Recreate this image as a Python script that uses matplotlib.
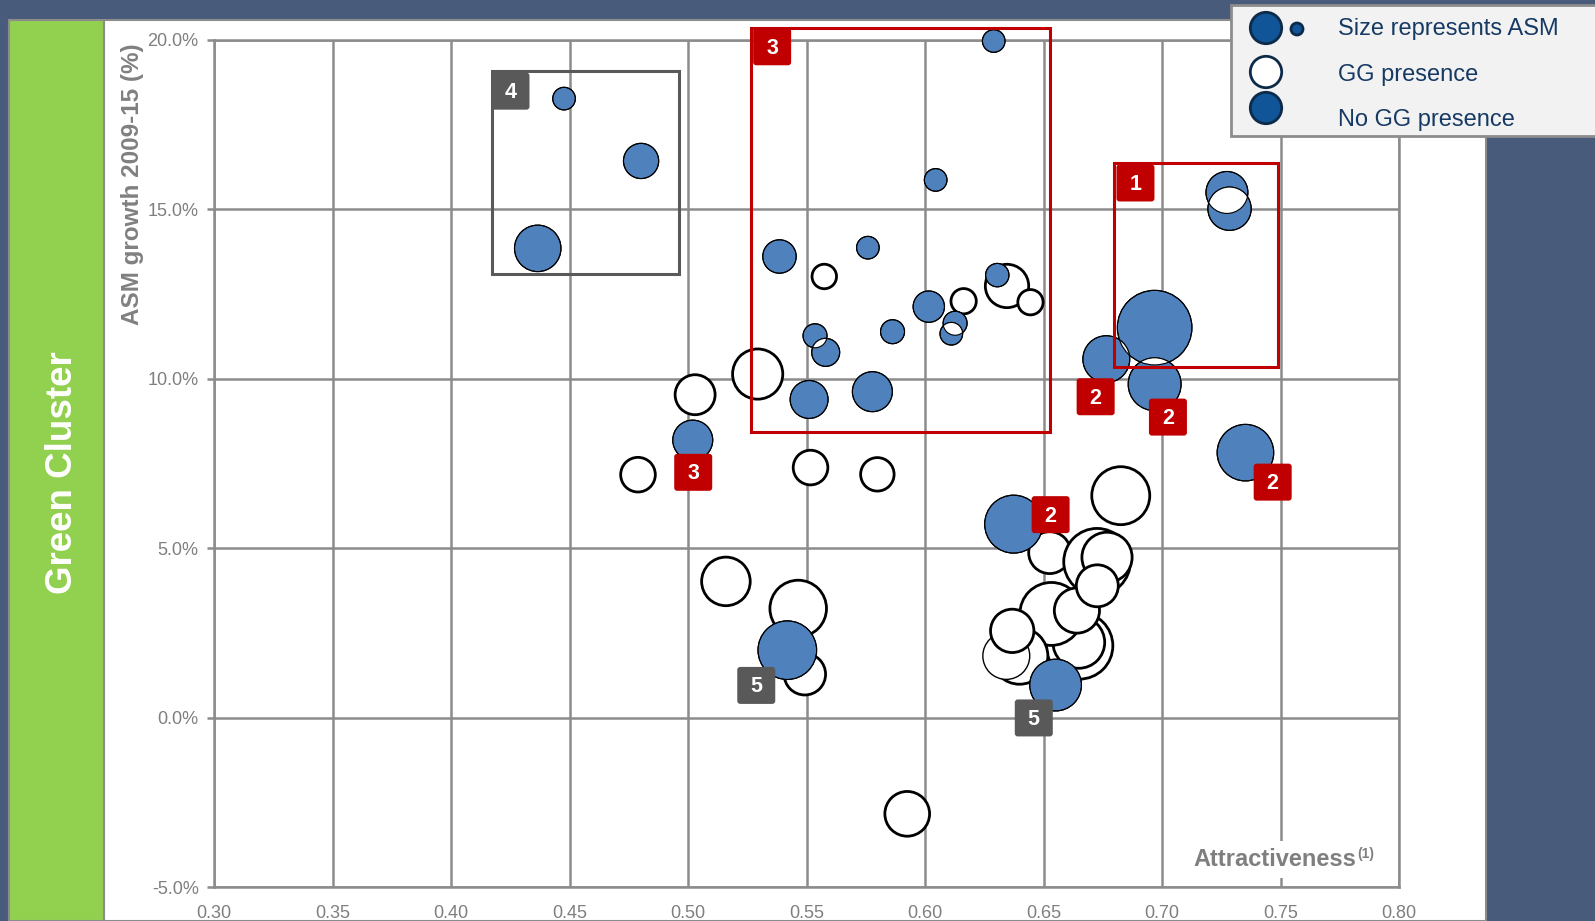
import numpy as np
import matplotlib
matplotlib.use("Agg")
import matplotlib.pyplot as plt
from matplotlib.patches import Circle, Rectangle, FancyBboxPatch
from matplotlib.transforms import ScaledTranslation

plt.rcParams['font.family'] = ['Liberation Sans', 'DejaVu Sans']

# --- data: attractiveness (x), ASM growth 2009-15 in % (y), ASM (bubble area)
# airports with GG presence (white bubbles)
gg_x = [0.5575, 0.6346, 0.6445, 0.6163, 0.5294, 0.5030, 0.4789, 0.5517, 0.5799,
        0.5160, 0.5465, 0.5493, 0.5925, 0.6826, 0.6526, 0.6652, 0.6649, 0.6533,
        0.6399, 0.6343, 0.6368, 0.6641, 0.6726, 0.6768, 0.6727]
gg_y = [13.02, 12.74, 12.26, 12.29, 10.14, 9.53, 7.17, 7.38, 7.18,
        4.02, 3.22, 1.28, -2.84, 6.55, 4.87, 2.12, 2.22, 3.06,
        1.82, 1.82, 2.56, 3.16, 4.60, 4.73, 3.89]
gg_asm = [1.5, 4.7, 1.6, 1.6, 6.3, 4.0, 3.0, 3.0, 2.8,
          5.9, 8.0, 4.3, 5.0, 8.4, 4.4, 11.1, 6.7, 9.9,
          8.0, 5.5, 4.7, 5.1, 11.1, 6.3, 4.4]
gg_thin = [19]  # drawn with a thinner outline

# airports without GG presence (blue bubbles)
no_x = [0.4477, 0.4802, 0.4366, 0.6290, 0.6045, 0.5386, 0.5759, 0.6305, 0.6016,
        0.5863, 0.6127, 0.6111, 0.5536, 0.5581, 0.5778, 0.5511, 0.5020, 0.7274,
        0.7285, 0.6969, 0.6765, 0.6969, 0.7352, 0.6374, 0.5419, 0.6551]
no_y = [18.27, 16.43, 13.85, 19.97, 15.87, 13.61, 13.87, 13.06, 12.13,
        11.39, 11.64, 11.33, 11.27, 10.78, 9.62, 9.39, 8.19, 15.50,
        15.02, 11.51, 10.58, 9.84, 7.82, 5.71, 1.99, 0.96]
no_asm = [1.28, 3.1, 5.4, 1.28, 1.28, 2.8, 1.28, 1.37, 2.46,
          1.44, 1.44, 1.28, 1.44, 1.96, 4.0, 3.6, 4.0, 4.4,
          4.7, 13.9, 5.5, 7.0, 8.0, 8.4, 8.6, 6.7]

# cluster boxes: x0, x1, y0, y1
box_x0 = [0.4172, 0.5264, 0.6797]
box_x1 = [0.4963, 0.6529, 0.7490]
box_y0 = [13.09, 8.43, 10.35]
box_y1 = [19.08, 20.36, 16.38]
box_col = ['#595959', '#c00000', '#c00000']

# numbered badges
badge_txt = ['4', '3', '1', '2', '2', '2', '2', '3', '5', '5']
badge_x = [0.4251, 0.5355, 0.6888, 0.6720, 0.7025, 0.7467, 0.6530, 0.5022, 0.5288, 0.6459]
badge_y = [18.49, 19.80, 15.78, 9.47, 8.87, 6.95, 5.99, 7.24, 0.95, -0.01]
badge_col = ['#595959', '#c00000', '#c00000', '#c00000', '#c00000', '#c00000',
             '#c00000', '#c00000', '#595959', '#595959']

x_ticks = [0.30, 0.35, 0.40, 0.45, 0.50, 0.55, 0.60, 0.65, 0.70, 0.75, 0.80]
y_ticks = [-5, 0, 5, 10, 15, 20]

BLUE = '#4f81bd'
GRID = '#8c8c8c'
DPI = 100
W, H = 1595, 921

fig = plt.figure(figsize=(W / DPI, H / DPI), dpi=DPI, facecolor='#485b7b')


def fx(px):
    return px / W


def fy(py):
    return 1 - py / H


# background panels
fig.patches.append(Rectangle((fx(104), 0), fx(1486) - fx(104), fy(20), transform=fig.transFigure,
                             facecolor='white', edgecolor=GRID, lw=1.5, zorder=-10))
fig.patches.append(Rectangle((fx(9), 0), fx(104) - fx(9), fy(20), transform=fig.transFigure,
                             facecolor='#92d050', edgecolor=GRID, lw=1.5, zorder=-9))

ax = fig.add_axes([fx(214), fy(887), fx(1399) - fx(214), fy(40) - fy(887)])
ax.set_xlim(0.30, 0.80)
ax.set_ylim(-5, 20)
ax.set_xticks(x_ticks)
ax.set_xticklabels([f'{v:.2f}' for v in x_ticks])
ax.set_yticks(y_ticks)
ax.set_yticklabels([f'{v:.1f}%' for v in y_ticks])
ax.tick_params(axis='x', length=0, pad=13, labelsize=13, labelcolor='#7f7f7f')
ax.tick_params(axis='y', length=5, width=1.8, color=GRID, pad=6, labelsize=13, labelcolor='#7f7f7f')
ax.grid(True, color=GRID, lw=1.8)
ax.set_axisbelow(True)
for s in ax.spines.values():
    s.set_color(GRID)
    s.set_linewidth(1.8)


def place(x, y):
    # inch-based shape positioned at a data point
    return fig.dpi_scale_trans + ScaledTranslation(x, y, ax.transData)


def bubble(x, y, asm, clip_on=False, **kw):
    c = Circle((0, 0), np.sqrt(asm) / 10, transform=place(x, y), clip_on=clip_on, **kw)
    ax.add_patch(c)
    return c


# GG presence bubbles
for i, (x, y, a) in enumerate(zip(gg_x, gg_y, gg_asm)):
    bubble(x, y, a, facecolor='white', edgecolor='black',
           lw=1.0 if i in gg_thin else 2.0, zorder=2)

# no GG presence bubbles
blue = [bubble(x, y, a, facecolor=BLUE, edgecolor='black', lw=0.8, zorder=3)
        for x, y, a in zip(no_x, no_y, no_asm)]

# overlapping blue bubbles show their intersection in white
pix = ax.transData.transform(np.column_stack([no_x, no_y]))
rad = np.sqrt(no_asm) * 10 * DPI / 100
for i in range(len(no_x)):
    for j in range(i + 1, len(no_x)):
        if np.hypot(*(pix[i] - pix[j])) < rad[i] + rad[j]:
            lens = bubble(no_x[j], no_y[j], no_asm[j], clip_on=True,
                          facecolor='white', edgecolor='none', zorder=4)
            lens.set_clip_path(blue[i])
for x, y, a in zip(no_x, no_y, no_asm):
    bubble(x, y, a, facecolor='none', edgecolor='black', lw=0.8, zorder=5)

# cluster boxes
for x0, x1, y0, y1, c in zip(box_x0, box_x1, box_y0, box_y1, box_col):
    ax.add_patch(Rectangle((x0, y0), x1 - x0, y1 - y0, facecolor='none', edgecolor=c,
                           lw=2.2, zorder=6, clip_on=False))

# badges
for t, x, y, c in zip(badge_txt, badge_x, badge_y, badge_col):
    ax.add_patch(FancyBboxPatch((-0.19, -0.185), 0.38, 0.37,
                                boxstyle='round,pad=0,rounding_size=0.03',
                                transform=place(x, y), facecolor=c, edgecolor='none',
                                zorder=7, clip_on=False))
    ax.annotate(t, (x, y), xytext=(0, -1), textcoords='offset points', ha='center', va='center',
                color='white', fontsize=15.5, fontweight='bold', zorder=8)

# x-axis title with superscript
xt = ax.text(0.9637, 0.0325, 'Attractiveness', transform=ax.transAxes, ha='right', va='center',
             fontsize=17, fontweight='bold', color='#7f7f7f', zorder=9,
             bbox=dict(facecolor='white', edgecolor='none', pad=5))
ax.annotate('(1)', xy=(1, 1), xycoords=xt, xytext=(1, 1), textcoords='offset points',
            ha='left', va='top', fontsize=10, fontweight='bold', color='#7f7f7f', zorder=9)

# y-axis title and side panel title
fig.text(fx(133), fy(184), 'ASM growth 2009-15 (%)', rotation=90, ha='center', va='center',
         fontsize=17.5, fontweight='bold', color='#808080')
fig.text(fx(62), fy(473), 'Green Cluster', rotation=90, ha='center', va='center',
         fontsize=26.5, fontweight='bold', color='white')

# legend
fig.patches.append(Rectangle((fx(1231), fy(136)), fx(1600) - fx(1231), fy(5) - fy(136),
                             transform=fig.transFigure, facecolor='#f2f2f2', edgecolor=GRID,
                             lw=2, zorder=10))
LEG_BLUE = '#0f5597'
LEG_EDGE = '#0c2a4a'
leg_circles = [(1266, 28, 15.7, LEG_BLUE), (1297, 29, 6, LEG_BLUE),
               (1266, 72, 15.7, 'white'), (1266, 108, 15.7, LEG_BLUE)]
for cx, cy, r, fc in leg_circles:
    fig.patches.append(Circle((cx / DPI, (H - cy) / DPI), r / DPI, transform=fig.dpi_scale_trans,
                              facecolor=fc, edgecolor=LEG_EDGE, lw=2, zorder=11))
for label, ly in zip(['Size represents ASM', 'GG presence', 'No GG presence'], [29, 74.5, 120]):
    fig.text(fx(1338), fy(ly), label, ha='left', va='center', fontsize=17,
             color='#173a64', zorder=12)

fig.savefig('out.png', dpi=DPI, facecolor=fig.get_facecolor())
